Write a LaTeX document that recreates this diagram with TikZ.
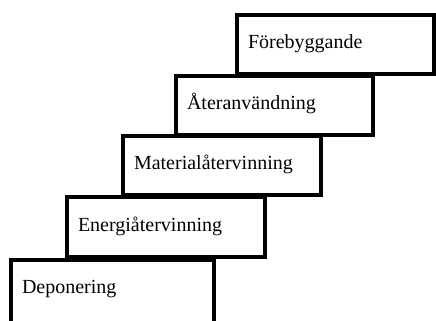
\documentclass[tikz,border=0pt]{standalone}
\usepackage{fontspec}
\setmainfont{Liberation Serif}
\begin{document}
\begin{tikzpicture}[x=1bp,y=-1bp,
  stairbox/.style={draw=black, line width=3.5bp, anchor=north west, outer sep=0pt,
    minimum height=59bp, inner xsep=11bp, inner ysep=0pt, align=left,
    font=\fontsize{20bp}{24bp}\selectfont, text height=12bp, text depth=4bp}]
\useasboundingbox (0,0) rectangle (436,320);
\clip (0,0) rectangle (436,320);
\node[stairbox, minimum width=203bp, text width=181bp, minimum height=70bp, text depth=15bp] (dep) at (11,260) {Deponering};
\node[stairbox, minimum width=198bp, text width=176bp, minimum height=60bp] (ene) at (67,197) {Energiåtervinning};
\node[stairbox, minimum width=198bp, text width=176bp] (mat) at (123,136) {Materialåtervinning};
\node[stairbox, minimum width=197bp, text width=175bp] (ate) at (176,76) {Återanvändning};
\node[stairbox, minimum width=197bp, text width=175bp] (for) at (237,15) {Förebyggande};
\end{tikzpicture}
\end{document}
